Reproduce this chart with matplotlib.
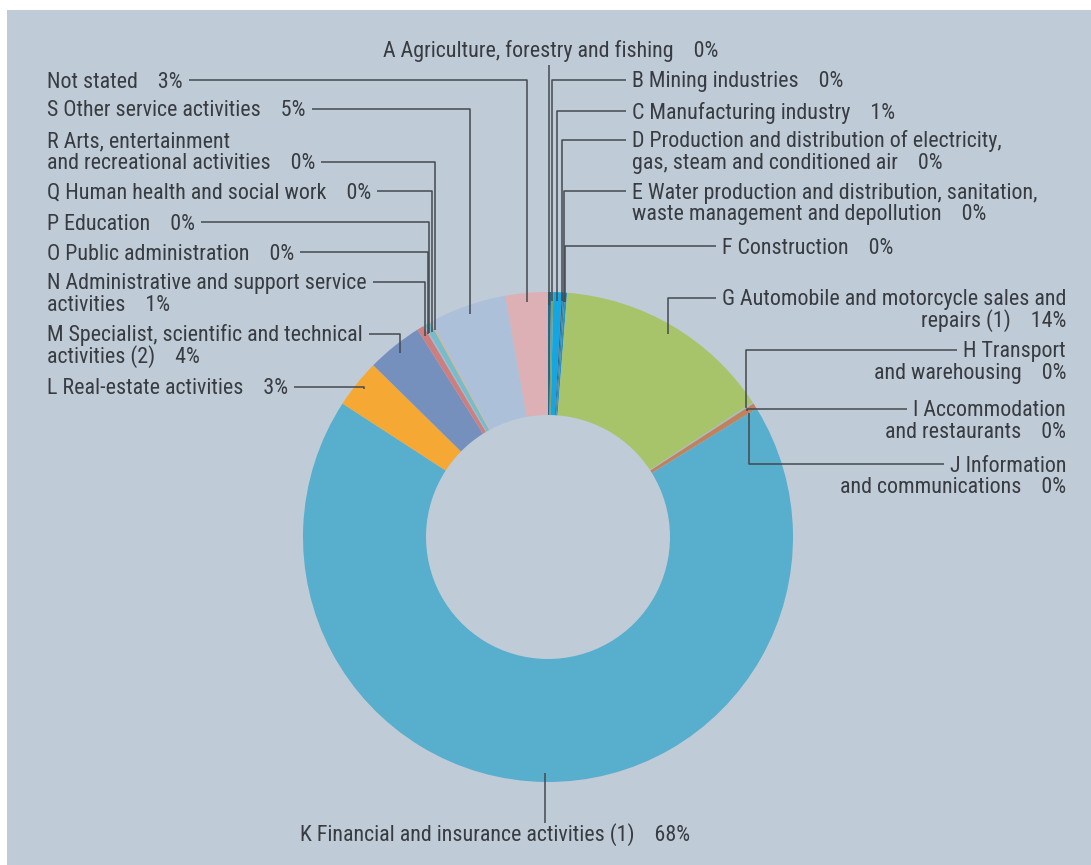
import matplotlib
matplotlib.use("Agg")
import matplotlib.pyplot as plt
from matplotlib import font_manager
from matplotlib.patches import Rectangle
import numpy as np

# sectors in clockwise order starting at 12 o'clock
sectors = [
    "A Agriculture, forestry and fishing",
    "B Mining industries",
    "C Manufacturing industry",
    "D Production and distribution of electricity,\ngas, steam and conditioned air",
    "E Water production and distribution, sanitation,\nwaste management and depollution",
    "F Construction",
    "G Automobile and motorcycle sales and\nrepairs (1)",
    "H Transport\nand warehousing",
    "I Accommodation\nand restaurants",
    "J Information\nand communications",
    "K Financial and insurance activities (1)",
    "L Real-estate activities",
    "M Specialist, scientific and technical\nactivities (2)",
    "N Administrative and support service\nactivities",
    "O Public administration",
    "P Education",
    "Q Human health and social work",
    "R Arts, entertainment\nand recreational activities",
    "S Other service activities",
    "Not stated",
]
shares = [0.2, 0.15, 0.55, 0.1, 0.1, 0.15, 14.5, 0.1, 0.35, 0.05,
          68.0, 3.2, 3.7, 0.45, 0.05, 0.05, 0.4, 0.1, 5.1, 2.8]
shown = ["0%", "0%", "1%", "0%", "0%", "0%", "14%", "0%", "0%", "0%",
         "68%", "3%", "4%", "1%", "0%", "0%", "0%", "0%", "5%", "3%"]
colors = ["#22698a", "#7fa06a", "#14a6e2", "#2d6f94", "#3f7f90", "#2a92c6",
          "#a8c46a", "#a9b9c9", "#c0825c", "#b07a58",
          "#57aecd", "#f5a833", "#7690bd", "#cd7f7f", "#9ab0c8", "#a0b8c8",
          "#77bccb", "#dcb48c", "#adc0d9", "#dcb0b4"]

# label layout in image pixels: x, centre y of first line, h-align,
# index of line the leader leaves from, side the leader leaves from
layout = [
    (551, 49, "center", 0, "below"),
    (632, 80, "left", 0, "left"),
    (632, 111, "left", 0, "left"),
    (632, 140, "left", 0, "left"),
    (632, 191, "left", 0, "left"),
    (722, 246, "left", 0, "left"),
    (1066, 298, "right", 0, "left"),
    (1066, 350, "right", 0, "left"),
    (1066, 409, "right", 0, "left"),
    (1066, 464, "right", 0, "left"),
    (495, 833, "center", 0, "above"),
    (47, 387, "left", 0, "right"),
    (47, 334, "left", 0, "right"),
    (47, 282, "left", 0, "right"),
    (47, 252, "left", 0, "right"),
    (47, 222, "left", 0, "right"),
    (47, 191, "left", 0, "right"),
    (47, 140, "left", 1, "right"),
    (47, 109, "left", 0, "right"),
    (47, 80, "left", 0, "right"),
]

W, H = 1091, 865
CX, CY = 548, 537
R_OUT, R_IN = 245, 122
LINE_GAP = 21.5

# narrow fonts first, the reference uses a condensed face
names = {f.name for f in font_manager.fontManager.ttflist}
FONT, FSIZE = dict(family="DejaVu Sans"), 13.5
for fam, size in [("Roboto Condensed", 15.8), ("Liberation Sans Narrow", 15.5),
                  ("Archivo Narrow", 15.5), ("PT Sans Narrow", 16),
                  ("Barlow Semi Condensed", 15), ("Fira Sans Condensed", 15)]:
    if fam in names:
        FONT, FSIZE = dict(family=fam), size
        break
TXT = "#383c41"
LINE = "#45494e"


def Y(img_y):
    return H - img_y


fig = plt.figure(figsize=(W / 100, H / 100), dpi=100)
fig.patch.set_facecolor("white")
ax = fig.add_axes([0, 0, 1, 1])
ax.add_patch(Rectangle((7, 0), W - 7, H - 10, facecolor="#bfcbd7",
                       edgecolor="none", zorder=0))

wedges, _ = ax.pie(shares, colors=colors, startangle=90, counterclock=False,
                   radius=R_OUT, center=(CX, Y(CY)), normalize=True,
                   wedgeprops=dict(width=R_OUT - R_IN, linewidth=0))
ax.set_xlim(0, W)
ax.set_ylim(0, H)
ax.set_aspect("equal")
ax.axis("off")

texts = []
for name, pct, (tx, ty, ha, k, side) in zip(sectors, shown, layout):
    lines = name.split("\n")
    lines[-1] = lines[-1] + "    " + pct
    objs = []
    for i, s in enumerate(lines):
        t = ax.text(tx, Y(ty + i * LINE_GAP + 7.5), s, ha=ha, va="baseline",
                    fontsize=FSIZE, color=TXT, zorder=4, **FONT)
        objs.append(t)
    texts.append((objs, ty + k * LINE_GAP, k, side))

fig.canvas.draw()
renderer = fig.canvas.get_renderer()
inv = ax.transData.inverted()

for w, (objs, ly, k, side) in zip(wedges, texts):
    mid = np.deg2rad((w.theta1 + w.theta2) / 2)
    r_a = 236 if side != "below" else 232
    ax_x = CX + r_a * np.cos(mid)
    ax_y = Y(CY) + r_a * np.sin(mid)
    bb = objs[k].get_window_extent(renderer)
    (x0, _), (x1, _) = inv.transform([(bb.x0, bb.y0), (bb.x1, bb.y1)])
    if side == "below":
        xs, ys = [ax_x, ax_x], [Y(65), ax_y]
    elif side == "above":
        xs, ys = [ax_x, ax_x], [Y(823), ax_y]
    else:
        sx = x1 + 6 if side == "right" else x0 - 6
        xs = [sx, ax_x, ax_x]
        ys = [Y(ly), Y(ly), ax_y]
    ax.plot(xs, ys, color=LINE, lw=1.1, zorder=3, solid_capstyle="butt")

fig.savefig("out.png", dpi=100, facecolor=fig.get_facecolor())
